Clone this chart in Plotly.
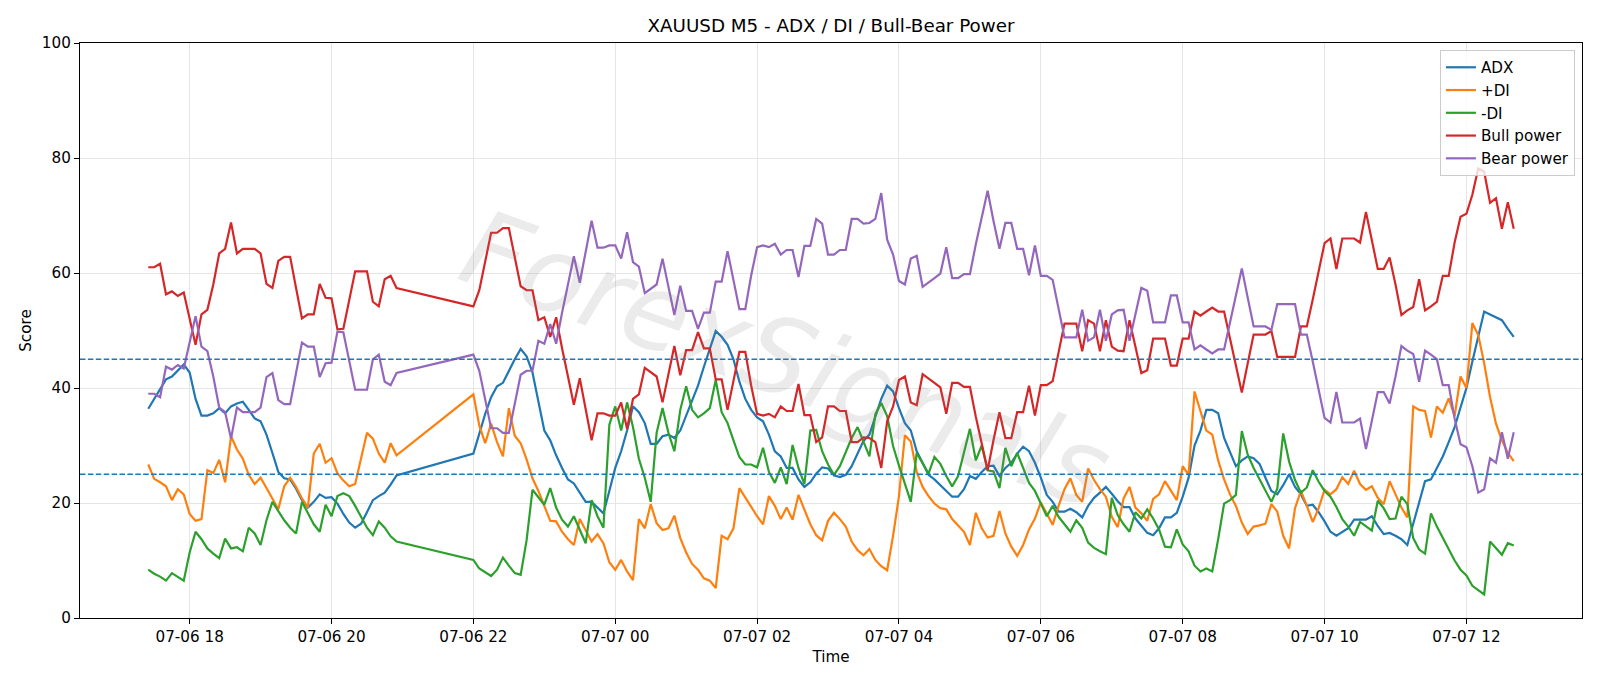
import pandas as pd
import plotly.graph_objects as go

# ---- time axis: two sessions of 5-minute bars (gap 21:00-22:00) ----
session1 = pd.date_range("2025-07-06 17:25", "2025-07-06 20:55", freq="5min")
session2 = pd.date_range("2025-07-06 22:00", "2025-07-07 12:40", freq="5min")
times = session1.append(session2)

# ---- series values ----
adx = [
    36.4, 38.1, 39.9, 41.5, 42.0, 43.1, 44.1, 42.7, 38.1, 35.2, 35.2, 35.6, 36.5, 35.6, 36.8, 37.3,
    37.6, 36.2, 34.7, 34.2, 31.9, 28.7, 25.4, 24.3, 24.1, 22.5, 20.5, 19.2, 20.2, 21.5, 20.9, 21.0,
    19.9, 18.1, 16.6, 15.7, 16.4, 18.4, 20.5, 21.2, 21.8, 23.2, 24.8,
    28.6, 32.0, 35.5, 38.4, 40.3, 40.9, 43.0, 45.0, 46.8, 45.5, 42.7, 37.8,
    32.6, 30.9, 28.3, 26.1, 24.1, 23.4, 21.8, 20.2, 20.2, 19.2, 18.2, 22.1,
    26.1, 29.0, 32.6, 36.8, 35.8, 33.9, 30.3, 30.3, 31.6, 31.9, 31.3, 32.6,
    35.2, 37.8, 40.4, 43.7, 46.9, 49.9, 48.9, 47.5, 45.0, 41.1, 38.1, 36.2,
    34.9, 34.2, 31.9, 29.0, 28.1, 26.1, 26.1, 24.1, 22.8, 23.6, 25.1, 26.2,
    26.0, 24.8, 24.5, 24.9, 26.4, 28.7, 30.8, 31.9, 35.2, 38.1, 40.4, 39.4,
    36.5, 33.9, 32.6, 29.0, 27.0, 24.9, 24.1, 23.1, 22.1, 21.1, 21.1, 22.4,
    24.7, 24.2, 25.4, 26.4, 26.5, 24.7, 26.1, 27.0, 28.6, 29.8, 29.0, 27.0,
    24.4, 21.4, 20.2, 18.5, 18.5, 19.0, 18.4, 17.5, 19.5, 20.9, 21.8, 22.8,
    21.6, 20.3, 19.3, 19.3, 17.3, 16.0, 14.8, 14.4, 15.6, 17.5, 17.5, 18.3,
    21.1, 24.4, 30.0, 32.6, 36.2, 36.2, 35.6, 31.3, 28.7, 26.4, 27.4, 28.1,
    27.8, 26.8, 24.4, 22.1, 21.5, 23.1, 25.0, 22.8, 21.5, 19.5, 19.7, 18.4,
    16.8, 15.0, 14.3, 15.0, 15.6, 17.1, 17.1, 17.1, 17.7, 16.0, 14.6, 14.8,
    14.3, 13.7, 12.7, 16.3, 20.2, 23.8, 24.1, 26.1, 28.1, 30.6, 33.2, 36.6,
    40.0, 44.6, 48.9, 53.3, 52.8, 52.3, 51.8, 50.3, 48.9,
]

plus_di = [
    26.7, 24.2, 23.6, 22.9, 20.5, 22.4, 21.5, 18.1, 16.9, 17.2, 25.7, 25.2, 27.5, 23.6, 31.6, 29.3,
    27.7, 24.9, 23.3, 24.4, 22.6, 20.8, 18.9, 22.9, 24.4, 22.8, 20.8, 19.2, 28.6, 30.3, 27.0, 27.8,
    25.2, 23.9, 22.9, 23.3, 27.7, 32.2, 31.2, 28.6, 27.0, 30.4, 28.3,
    38.9, 33.5, 30.4, 33.8, 30.6, 28.1, 36.5, 31.7, 30.4, 27.6, 24.3, 22.1,
    19.5, 16.9, 16.8, 15.0, 13.7, 12.7, 17.2, 15.3, 13.3, 14.6, 13.0, 9.7,
    8.4, 10.1, 8.1, 6.6, 17.2, 15.6, 19.8, 16.5, 15.3, 15.6, 17.8, 13.9,
    11.4, 9.4, 8.4, 6.9, 6.5, 5.2, 14.3, 13.7, 15.6, 22.6, 21.0, 19.2,
    17.7, 16.3, 21.2, 19.5, 17.2, 19.2, 17.1, 21.4, 18.9, 16.3, 14.4, 13.5,
    16.9, 18.3, 17.2, 15.9, 13.3, 11.8, 10.9, 12.0, 10.1, 9.0, 8.3, 14.3,
    21.2, 31.8, 30.7, 25.4, 22.8, 21.2, 19.9, 19.1, 18.9, 17.2, 16.1, 15.0,
    12.7, 18.3, 15.6, 14.0, 14.3, 18.6, 14.7, 12.4, 10.8, 12.7, 15.4, 17.3,
    20.1, 18.2, 16.2, 19.5, 22.4, 24.3, 21.4, 20.2, 26.0, 24.0, 22.4, 21.1,
    17.6, 15.8, 20.8, 22.8, 19.2, 18.2, 16.9, 20.7, 21.5, 23.8, 22.1, 20.5,
    26.4, 24.9, 39.4, 35.8, 32.6, 31.9, 27.4, 24.1, 21.5, 19.5, 16.6, 14.6,
    15.9, 16.1, 16.4, 19.8, 18.5, 14.3, 12.1, 19.1, 22.1, 19.5, 16.7, 19.1,
    22.3, 21.5, 22.4, 24.5, 23.3, 25.6, 23.3, 22.3, 22.9, 20.9, 19.8, 23.8,
    21.5, 19.2, 17.5, 36.8, 36.2, 36.0, 31.4, 36.8, 35.7, 38.2, 35.1, 42.0,
    40.0, 51.3, 49.2, 44.3, 38.4, 33.8, 30.9, 28.7, 27.3,
]

minus_di = [
    8.4, 7.7, 7.2, 6.5, 7.8, 7.2, 6.5, 11.4, 15.0, 13.7, 12.1, 11.2, 10.4, 13.8, 12.1, 12.3,
    11.6, 15.7, 14.7, 12.7, 17.0, 20.2, 18.6, 17.0, 15.7, 14.7, 20.2, 18.3, 16.3, 15.0, 19.7, 17.7,
    21.2, 21.7, 21.2, 19.5, 17.5, 15.7, 14.4, 16.8, 15.7, 14.2, 13.3,
    10.1, 8.6, 7.9, 7.3, 8.4, 10.5, 9.1, 7.8, 7.5, 13.5, 22.3, 21.1,
    19.7, 22.6, 19.2, 17.1, 15.9, 17.7, 15.4, 13.0, 20.5, 17.7, 15.7, 33.6,
    36.8, 32.6, 37.5, 33.2, 27.7, 24.4, 20.2, 32.2, 36.5, 32.2, 29.0, 36.2,
    40.3, 36.2, 34.9, 35.6, 36.5, 41.4, 35.8, 33.9, 30.9, 28.0, 26.7, 26.7,
    26.2, 29.6, 25.4, 23.5, 26.2, 23.3, 30.1, 26.1, 23.3, 32.6, 32.7, 29.0,
    26.7, 24.9, 26.4, 28.7, 31.3, 33.2, 30.6, 28.1, 35.4, 37.4, 35.1, 29.9,
    26.5, 23.5, 20.2, 28.7, 27.0, 25.1, 28.0, 26.8, 24.7, 22.9, 24.7, 28.7,
    32.9, 27.4, 30.0, 25.7, 25.5, 22.6, 29.6, 26.4, 28.7, 26.1, 23.5, 22.1,
    19.9, 17.7, 19.5, 17.6, 16.3, 15.0, 17.0, 15.7, 13.1, 12.2, 11.6, 11.1,
    20.9, 17.9, 16.3, 15.0, 18.4, 17.3, 18.9, 17.3, 15.4, 12.4, 12.3, 15.4,
    12.8, 11.6, 9.1, 8.1, 8.6, 8.1, 13.7, 19.9, 20.5, 21.4, 32.5, 28.4,
    26.1, 24.1, 22.2, 20.2, 22.5, 32.1, 27.2, 24.0, 21.8, 22.7, 25.7, 23.7,
    22.1, 21.1, 19.3, 17.2, 15.9, 14.3, 16.7, 15.9, 15.2, 20.4, 19.1, 17.2,
    17.3, 21.1, 19.8, 13.9, 11.9, 11.2, 18.2, 15.9, 13.9, 11.9, 10.0, 8.4,
    7.4, 5.6, 4.9, 4.1, 13.3, 12.2, 11.0, 13.0, 12.6,
]

bull_power = [
    61.0, 61.0, 61.6, 56.3, 56.8, 56.0, 56.6, 52.1, 47.5, 52.8, 53.6, 58.0, 63.4, 64.2, 68.8, 63.4,
    64.2, 64.2, 64.2, 63.4, 58.1, 57.4, 62.1, 62.8, 62.8, 57.4, 52.1, 52.8, 52.8, 58.1, 55.7, 55.6,
    50.2, 50.3, 55.1, 60.3, 60.3, 60.3, 55.0, 54.2, 58.9, 59.5, 57.4,
    54.2, 57.0, 61.9, 67.0, 67.0, 67.8, 67.8, 62.6, 57.7, 57.0, 57.0, 51.8,
    52.3, 48.9, 52.3, 46.9, 42.0, 37.1, 41.7, 36.5, 30.9, 35.6, 35.6, 35.2,
    35.2, 37.5, 32.9, 38.1, 38.9, 43.5, 42.8, 42.0, 37.5, 42.4, 47.3, 42.2,
    46.6, 46.6, 49.7, 46.9, 46.9, 41.5, 41.5, 36.2, 41.4, 46.3, 46.3, 40.4,
    35.5, 35.2, 35.5, 34.9, 36.8, 36.0, 36.0, 40.7, 35.3, 35.3, 30.6, 31.4,
    36.8, 36.8, 36.0, 36.0, 30.6, 30.6, 31.4, 31.3, 30.6, 26.1, 34.2, 36.8,
    41.4, 42.0, 37.5, 37.0, 42.4, 41.7, 40.9, 40.1, 35.5, 40.9, 40.9, 40.2,
    40.2, 35.0, 30.3, 25.7, 31.0, 35.8, 31.3, 31.3, 35.8, 35.8, 40.4, 35.2,
    40.5, 40.5, 41.2, 46.3, 51.2, 51.2, 51.2, 46.4, 51.8, 51.2, 46.4, 51.8,
    47.2, 46.5, 46.4, 51.8, 47.3, 42.6, 43.1, 48.6, 48.6, 48.6, 43.9, 43.9,
    48.6, 48.6, 53.3, 52.6, 53.3, 54.0, 53.3, 53.3, 48.6, 44.0, 39.2, 44.3,
    49.3, 49.3, 49.3, 49.9, 45.4, 45.4, 45.4, 45.4, 50.7, 50.7, 55.4, 60.4,
    65.2, 66.0, 60.7, 66.0, 66.0, 66.0, 65.3, 70.6, 65.7, 60.7, 60.7, 62.7,
    58.0, 52.7, 53.5, 54.1, 58.9, 53.5, 54.2, 55.0, 59.5, 59.5, 65.3, 69.8,
    70.3, 73.6, 78.2, 77.6, 72.2, 73.0, 67.7, 72.3, 67.7,
]

bear_power = [
    39.0, 39.0, 38.4, 43.7, 43.2, 44.0, 43.4, 47.9, 52.5, 47.2, 46.4, 42.0, 36.6, 35.8, 31.2, 36.6,
    35.8, 35.8, 35.8, 36.6, 41.9, 42.6, 37.9, 37.2, 37.2, 42.6, 47.9, 47.2, 47.2, 41.9, 44.3, 44.4,
    49.8, 49.7, 44.9, 39.7, 39.7, 39.7, 45.0, 45.8, 41.1, 40.5, 42.6,
    45.8, 43.0, 38.1, 33.0, 33.0, 32.2, 32.2, 37.4, 42.3, 43.0, 43.0, 48.2,
    47.7, 51.1, 47.7, 53.1, 58.0, 62.9, 58.3, 63.5, 69.1, 64.4, 64.4, 64.8,
    64.8, 62.5, 67.1, 61.9, 61.1, 56.5, 57.2, 58.0, 62.5, 57.6, 52.7, 57.8,
    53.4, 53.4, 50.3, 53.1, 53.1, 58.5, 58.5, 63.8, 58.6, 53.7, 53.7, 59.6,
    64.5, 64.8, 64.5, 65.1, 63.2, 64.0, 64.0, 59.3, 64.7, 64.7, 69.4, 68.6,
    63.2, 63.2, 64.0, 64.0, 69.4, 69.4, 68.6, 68.7, 69.4, 73.9, 65.8, 63.2,
    58.6, 58.0, 62.5, 63.0, 57.6, 58.3, 59.1, 59.9, 64.5, 59.1, 59.1, 59.8,
    59.8, 65.0, 69.7, 74.3, 69.0, 64.2, 68.7, 68.7, 64.2, 64.2, 59.6, 64.8,
    59.5, 59.5, 58.8, 53.7, 48.8, 48.8, 48.8, 53.6, 48.2, 48.8, 53.6, 48.2,
    52.8, 53.5, 53.6, 48.2, 52.7, 57.4, 56.9, 51.4, 51.4, 51.4, 56.1, 56.1,
    51.4, 51.4, 46.7, 47.4, 46.7, 46.0, 46.7, 46.7, 51.4, 56.0, 60.8, 55.7,
    50.7, 50.7, 50.7, 50.1, 54.6, 54.6, 54.6, 54.6, 49.3, 49.3, 44.6, 39.6,
    34.8, 34.0, 39.3, 34.0, 34.0, 34.0, 34.7, 29.4, 34.3, 39.3, 39.3, 37.3,
    42.0, 47.3, 46.5, 45.9, 41.1, 46.5, 45.8, 45.0, 40.5, 40.5, 34.7, 30.2,
    29.7, 26.4, 21.8, 22.4, 27.8, 27.0, 32.3, 27.7, 32.3,
]

series_names = ["ADX", "+DI", "-DI", "Bull power", "Bear power"]
series_colors = ["#1f77b4", "#ff7f0e", "#2ca02c", "#d62728", "#9467bd"]
threshold_levels = [25, 45]
y_ticks = [0, 20, 40, 60, 80, 100]

FONT = "DejaVu Sans"
FS = 15.2

fig = go.Figure()
for name, vals, color in zip(series_names, [adx, plus_di, minus_di, bull_power, bear_power], series_colors):
    fig.add_trace(go.Scatter(x=times, y=vals, mode="lines", name=name,
                             line=dict(color=color, width=2.2)))

for lvl in threshold_levels:
    fig.add_hline(y=lvl, line=dict(color="#1f77b4", width=1.4, dash="5.5px,2.4px"))

span = times[-1] - times[0]
x_range = [times[0] - span * 0.05, times[-1] + span * 0.05]

axis_common = dict(showline=True, linecolor="black", linewidth=1.2, mirror=True,
                   ticks="outside", ticklen=5, tickcolor="black", tickwidth=1.2,
                   showgrid=True, gridcolor="#e6e6e6", gridwidth=1, zeroline=False,
                   tickfont=dict(family=FONT, size=FS, color="black"))

fig.update_xaxes(type="date", range=x_range, tickformat="%m-%d %H",
                 tick0="2025-07-06 18:00", dtick=2 * 3600 * 1000,
                 title=dict(text="Time", font=dict(family=FONT, size=FS, color="black"), standoff=6),
                 **axis_common)
fig.update_yaxes(range=[0, 100], tickvals=y_ticks,
                 title=dict(text="Score", font=dict(family=FONT, size=FS, color="black"), standoff=6),
                 **axis_common)

# faint watermark
fig.add_annotation(text="ForexSignals", xref="paper", yref="paper", x=0.47, y=0.45,
                   showarrow=False, textangle=20,
                   font=dict(family=FONT, size=106, color="rgba(120,120,120,0.15)", style="italic"))

fig.update_layout(
    width=1600, height=686,
    margin=dict(l=80, r=18, t=43, b=68),
    paper_bgcolor="white", plot_bgcolor="white",
    font=dict(family=FONT, size=FS, color="black"),
    title=dict(text="XAUUSD M5 - ADX / DI / Bull-Bear Power", x=0.5, xref="paper", xanchor="center",
               y=1 - 25.5 / 686, yref="container", yanchor="middle",
               font=dict(family=FONT, size=18.3, color="black")),
    legend=dict(x=0.9953, y=0.988, xanchor="right", yanchor="top",
                bgcolor="rgba(255,255,255,0.8)", bordercolor="#cccccc", borderwidth=1,
                font=dict(family=FONT, size=FS, color="black"), tracegroupgap=0,
                itemwidth=30),
    showlegend=True,
)

fig.write_html("out.html")
